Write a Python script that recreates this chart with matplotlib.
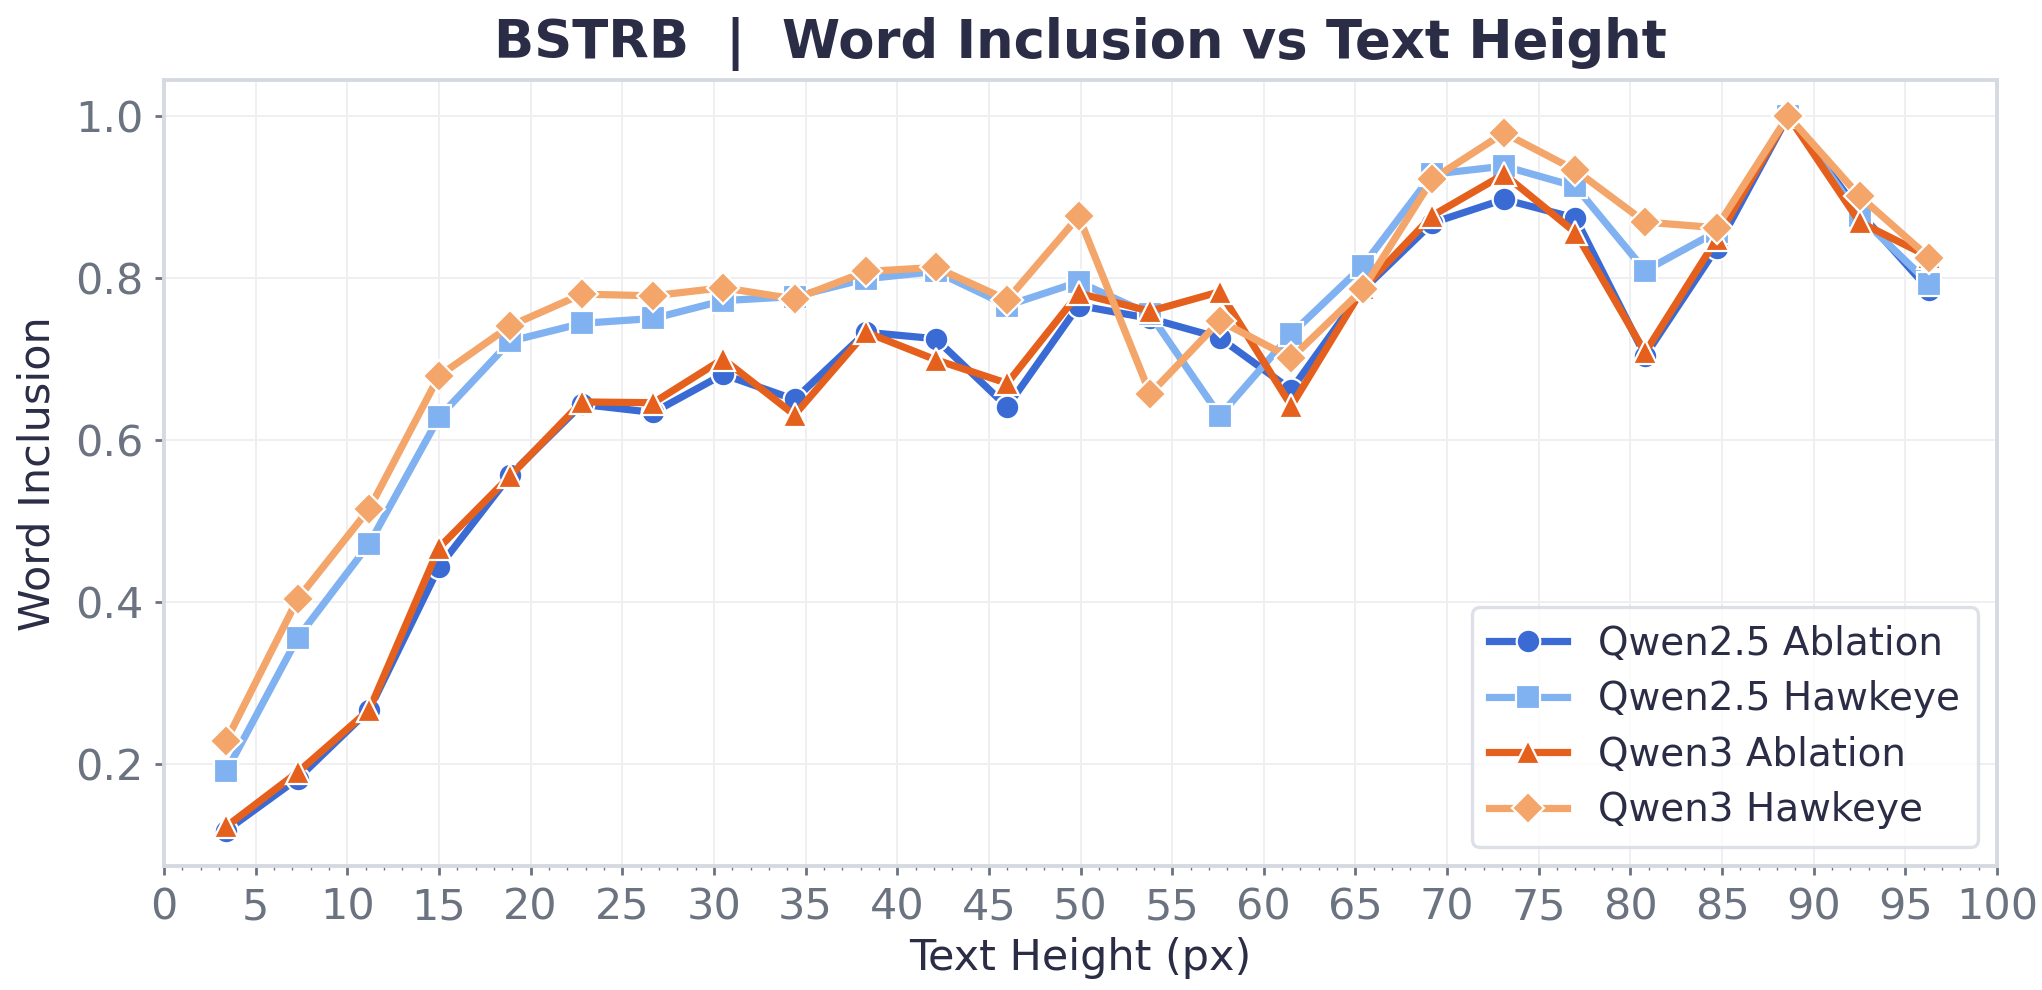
import matplotlib.pyplot as plt
from matplotlib.ticker import MultipleLocator

# bin centres (text height, px)
heights = [3.4, 7.3, 11.2, 15.0, 18.9, 22.8, 26.7, 30.5, 34.4, 38.3, 42.1, 46.0, 49.9,
           53.8, 57.6, 61.5, 65.4, 69.2, 73.1, 77.0, 80.8, 84.7, 88.6, 92.5, 96.3]

qwen25_ablation = [0.118, 0.182, 0.267, 0.443, 0.557, 0.644, 0.634, 0.681, 0.650, 0.733,
                   0.725, 0.641, 0.766, 0.750, 0.726, 0.662, 0.785, 0.868, 0.897, 0.874,
                   0.704, 0.837, 1.0, 0.881, 0.785]
qwen25_hawkeye = [0.191, 0.356, 0.472, 0.628, 0.722, 0.744, 0.750, 0.772, 0.777, 0.799,
                  0.808, 0.766, 0.795, 0.755, 0.630, 0.731, 0.815, 0.928, 0.938, 0.913,
                  0.809, 0.857, 1.0, 0.876, 0.793]
qwen3_ablation = [0.123, 0.190, 0.267, 0.467, 0.556, 0.647, 0.646, 0.700, 0.631, 0.733,
                  0.699, 0.670, 0.781, 0.759, 0.783, 0.642, 0.787, 0.877, 0.928, 0.856,
                  0.708, 0.848, 1.0, 0.869, 0.826]
qwen3_hawkeye = [0.229, 0.404, 0.515, 0.679, 0.741, 0.780, 0.778, 0.788, 0.774, 0.808,
                 0.813, 0.773, 0.876, 0.657, 0.747, 0.701, 0.786, 0.922, 0.979, 0.933,
                 0.869, 0.862, 1.0, 0.901, 0.825]

series = [
    ("Qwen2.5 Ablation", qwen25_ablation, "#3a6bd4", "o"),
    ("Qwen2.5 Hawkeye", qwen25_hawkeye, "#80b1f0", "s"),
    ("Qwen3 Ablation", qwen3_ablation, "#e4601c", "^"),
    ("Qwen3 Hawkeye", qwen3_hawkeye, "#f3a56a", "D"),
]

dark = "#2a2d45"
grey = "#6b7280"
spine = "#d5dae2"

fig, ax = plt.subplots(figsize=(10.21, 4.95), dpi=200)
fig.subplots_adjust(left=0.0803, right=0.978, top=0.919, bottom=0.125)

for label, vals, color, marker in series:
    ms = 8 if marker == "D" else 8.5
    ax.plot(heights, vals, color=color, marker=marker, lw=2.6, ms=ms,
            markeredgecolor="white", markeredgewidth=0.8, label=label)

ax.set_xlim(0, 100)
ax.xaxis.set_major_locator(MultipleLocator(5))
ax.xaxis.set_minor_locator(MultipleLocator(1))
ax.yaxis.set_major_locator(MultipleLocator(0.2))

ax.grid(True, which="major", color="#efeff2", lw=0.7)
ax.set_axisbelow(True)
for s in ax.spines.values():
    s.set_color(spine)
    s.set_linewidth(1.4)

ax.tick_params(axis="both", which="major", labelsize=15.5, colors=grey,
               length=3.3, width=1.0, pad=4)
ax.tick_params(axis="x", which="minor", colors=grey, length=1.4, width=0.5)

ax.set_xlabel("Text Height (px)", fontsize=15.5, color=dark, labelpad=3)
ax.set_ylabel("Word Inclusion", fontsize=15.5, color=dark, labelpad=6)
ax.set_title("BSTRB  |  Word Inclusion vs Text Height", fontsize=19, fontweight="bold",
             color=dark, pad=8)

leg = ax.legend(loc="lower right", fontsize=14, frameon=True, borderpad=0.45,
                handlelength=2.0, labelspacing=0.45)
leg.get_frame().set_edgecolor(spine)
leg.get_frame().set_linewidth(1.2)
for t in leg.get_texts():
    t.set_color(dark)

plt.savefig("out.png", dpi=200)
